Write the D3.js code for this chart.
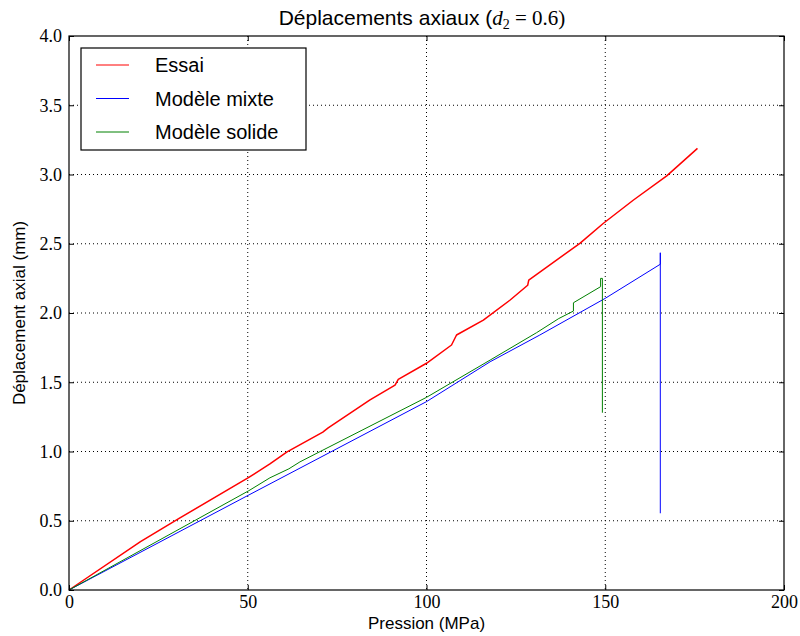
<!DOCTYPE html>
<html>
<head>
<meta charset="utf-8">
<script src="https://cdn.jsdelivr.net/npm/d3@7"></script>
<style>
  body { margin: 0; background: #fff; }
  svg text { fill: #000; }
</style>
</head>
<body>
<div id="chart"></div>
<script>
// pression (MPa) / déplacement (mm)
const essaiP = [0, 20, 30.8, 50.3, 56.2, 61, 71, 72.5, 84.2, 91.2, 92.1, 100, 107, 108.4, 115.9, 123.4, 128.3, 128.6, 142.9, 149.5, 157.9, 167.2, 175.8]
const essaiD = [0, 0.349, 0.517, 0.813, 0.91, 0.997, 1.14, 1.17, 1.372, 1.48, 1.521, 1.637, 1.769, 1.841, 1.949, 2.094, 2.20, 2.238, 2.503, 2.648, 2.816, 2.99, 3.189]

const mixteP = [0, 50.3, 100, 117.8, 131.7, 150, 165.4, 165.4, 165.4]
const mixteD = [0, 0.686, 1.36, 1.648, 1.841, 2.106, 2.352, 2.435, 0.554]

const solideP = [0, 50.3, 56.2, 61.5, 64.6, 70.2, 100, 117.8, 130.8, 137, 141.1, 141.1, 148.7, 148.7, 149.2, 149.2]
const solideD = [0, 0.717, 0.81, 0.875, 0.925, 0.999, 1.391, 1.66, 1.858, 1.96, 2.014, 2.074, 2.19, 2.25, 2.25, 1.28]

const xTicks = [0, 50, 100, 150, 200]
const yTicks = [0.0, 0.5, 1.0, 1.5, 2.0, 2.5, 3.0, 3.5, 4.0]

const series = [
    { name: 'Essai', P: essaiP, D: essaiD, color: '#ff0000', width: 1.5 },
    { name: 'Modèle mixte', P: mixteP, D: mixteD, color: '#0000ff', width: 1 },
    { name: 'Modèle solide', P: solideP, D: solideD, color: '#008000', width: 1 },
]

const W = 800, H = 636
const margin = { left: 69, top: 36, right: 16, bottom: 46 }
const w = W - margin.left - margin.right
const h = H - margin.top - margin.bottom
const translate = (x, y) => 'translate(' + x + ', ' + y + ')'

const svg = d3.select('#chart').append('svg')
    .attr('width', W).attr('height', H)
const g = svg.append('g').attr('transform', translate(margin.left, margin.top))

const x = d3.scaleLinear().domain([0, 200]).range([0, w])
const y = d3.scaleLinear().domain([0, 4]).range([h, 0])

// grid
g.append('g').selectAll('line').data(xTicks.slice(1, -1)).join('line')
    .attr('x1', d => x(d)).attr('x2', d => x(d))
    .attr('y1', 0).attr('y2', h)
    .attr('stroke', '#000').attr('stroke-width', 1)
    .attr('stroke-dasharray', '1,3')
g.append('g').selectAll('line').data(yTicks.slice(1, -1)).join('line')
    .attr('y1', d => y(d)).attr('y2', d => y(d))
    .attr('x1', 0).attr('x2', w)
    .attr('stroke', '#000').attr('stroke-width', 1)
    .attr('stroke-dasharray', '1,3')

// lines
const line = d3.line().x(d => x(d[0])).y(d => y(d[1]))
series.forEach(s => {
    g.append('path')
        .datum(s.P.map((p, i) => [p, s.D[i]]))
        .attr('d', line)
        .attr('fill', 'none')
        .attr('stroke', s.color)
        .attr('stroke-width', s.width)
        .attr('stroke-linejoin', 'round')
})

// axes (inward ticks on all sides)
const tickFont = '"Liberation Serif", "DejaVu Serif", serif'
const axBottom = g.append('g').attr('transform', translate(0, h))
    .call(d3.axisBottom(x).tickValues(xTicks).tickSize(-5).tickPadding(5).tickFormat(d3.format('d')))
const axTop = g.append('g')
    .call(d3.axisTop(x).tickValues(xTicks).tickSize(-5).tickFormat(''))
const axLeft = g.append('g')
    .call(d3.axisLeft(y).tickValues(yTicks).tickSize(-5).tickPadding(7).tickFormat(d3.format('.1f')))
const axRight = g.append('g').attr('transform', translate(w, 0))
    .call(d3.axisRight(y).tickValues(yTicks).tickSize(-5).tickFormat(''))
;[axBottom, axTop, axLeft, axRight].forEach(a => {
    a.select('.domain').remove()
    a.selectAll('line').attr('stroke', '#000')
    a.selectAll('text').style('font-family', tickFont).style('font-size', '18px')
})
axLeft.selectAll('text').attr('dy', '0.32em')

g.append('rect').attr('width', w).attr('height', h)
    .attr('fill', 'none').attr('stroke', '#000').attr('stroke-width', 1.2)

// texts
const sans = '"Liberation Sans", Arial, sans-serif'
const title = svg.append('text')
    .attr('x', 422).attr('y', 25)
    .attr('text-anchor', 'middle')
    .style('font-family', sans).style('font-size', '21px')
title.append('tspan').text('Déplacements axiaux (')
title.append('tspan').text('d').style('font-family', tickFont).style('font-style', 'italic')
title.append('tspan').text('2').attr('dy', 4).style('font-family', tickFont).style('font-size', '14px')
title.append('tspan').text('\u2005=\u20050.6').attr('dy', -4).style('font-family', tickFont)
title.append('tspan').text(')').style('font-family', tickFont)

svg.append('text')
    .attr('x', margin.left + w / 2).attr('y', 629)
    .attr('text-anchor', 'middle')
    .style('font-family', sans).style('font-size', '17px')
    .text('Pression (MPa)')

svg.append('text')
    .attr('transform', translate(25, margin.top + h / 2) + ' rotate(-90)')
    .attr('text-anchor', 'middle')
    .style('font-family', sans).style('font-size', '17px')
    .text('Déplacement axial (mm)')

// legend
const legend = svg.append('g').attr('transform', translate(81, 48))
legend.append('rect').attr('width', 225).attr('height', 102)
    .attr('fill', '#fff').attr('stroke', '#000').attr('stroke-width', 1.2)
series.forEach((s, i) => {
    const ly = 17 + i * 33.5
    legend.append('line').attr('x1', 15).attr('x2', 48).attr('y1', ly).attr('y2', ly)
        .attr('stroke', s.color).attr('stroke-width', 1)
    legend.append('text').attr('x', 74).attr('y', ly).attr('dy', '0.35em')
        .style('font-family', sans).style('font-size', '20px')
        .text(s.name)
})
</script>
</body>
</html>
